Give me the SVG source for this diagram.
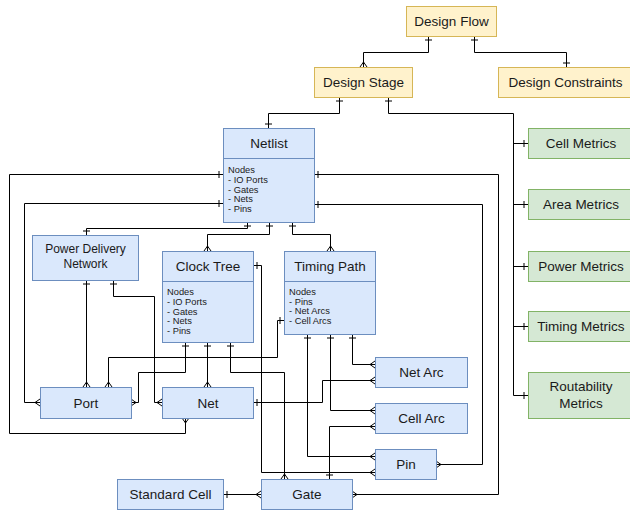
<svg xmlns="http://www.w3.org/2000/svg" width="630" height="512" viewBox="0 0 630 512">
<style>
.b{fill:#dae8fc;stroke:#6c8ebf;stroke-width:1}
.y{fill:#fff2cc;stroke:#d6b656;stroke-width:1}
.g{fill:#d5e8d4;stroke:#82b366;stroke-width:1}
.dv{stroke:#6c8ebf;stroke-width:1}
text{font-family:"Liberation Sans",Arial,sans-serif;fill:#1a1a1a;dominant-baseline:central}
.t{font-size:13.5px;text-anchor:middle}
.m{font-size:12px;text-anchor:middle}
.s{font-size:9.3px}
#connectors path{fill:none;stroke:#000;stroke-width:1}
.e{marker-start:url(#one);marker-end:url(#many)}
.o{marker-start:url(#one);marker-end:url(#one)}
</style>
<defs>
<marker id="one" viewBox="-10 -5 10 10" refX="0" refY="0" markerWidth="10" markerHeight="10" markerUnits="userSpaceOnUse" orient="auto-start-reverse"><path d="M-4,-3.5V3.5" stroke="#000" fill="none"/></marker>
<marker id="many" viewBox="-10 -5 10 10" refX="0" refY="0" markerWidth="10" markerHeight="10" markerUnits="userSpaceOnUse" orient="auto-start-reverse"><path d="M0,-3.5L-5,0L0,3.5" stroke="#000" fill="none"/></marker>
</defs>
<g id="connectors">
<path class="e" d="M428.5,36 V52.5 H363.5 V67"/>
<path class="o" d="M474.5,36 V52.5 H566.5 V67"/>
<path class="o" d="M339.5,97 V113.5 H268.5 V128"/>
<path class="o" d="M388.5,97 V113.5 H513.5 V395.5 H528"/>
<path marker-end="url(#one)" d="M513.5,143.5 H528"/>
<path marker-end="url(#one)" d="M513.5,204.5 H528"/>
<path marker-end="url(#one)" d="M513.5,266.5 H528"/>
<path marker-end="url(#one)" d="M513.5,326.5 H528"/>
<path class="e" d="M223,174.5 H9.5 V433.5 H185.5 V418"/>
<path class="e" d="M223,203.5 H24.5 V402.5 H40"/>
<path class="e" d="M314,174.5 H498.5 V494.5 H352"/>
<path class="e" d="M314,204.5 H482.5 V464.5 H436"/>
<path class="o" d="M247.5,222 V228.5 H86.5 V235"/>
<path class="e" d="M269.5,222 V234.5 H207.5 V251"/>
<path class="e" d="M292.5,222 V234.5 H330.5 V251"/>
<path class="e" d="M86.5,280 V387"/>
<path class="e" d="M113.5,280 V296.5 H154.5 V402.5 H162"/>
<path class="e" d="M253,265.5 H261.5 V472.5 H375"/>
<path class="e" d="M185.5,342 V372.5 H138.5 V402.5 H131"/>
<path class="e" d="M207.5,342 V387"/>
<path class="e" d="M230.5,342 V372.5 H284.5 V479"/>
<path class="e" d="M284,320.5 H277.5 V357.5 H108.5 V387"/>
<path class="e" d="M352.5,334 V364.5 H375"/>
<path class="e" d="M330.5,334 V410.5 H375"/>
<path class="e" d="M307.5,334 V456.5 H375"/>
<path class="e" d="M253,402.5 H322.5 V380.5 H375"/>
<path class="e" d="M329.5,479 V426.5 H375"/>
<path class="e" d="M223,494.5 H261"/>
</g>
<g id="design-flow"><rect class="y" x="406.5" y="6.5" width="90" height="30"/><text class="t" x="451.5" y="21.5">Design Flow</text></g>
<g id="design-stage"><rect class="y" x="314.5" y="67.5" width="98" height="30"/><text class="t" x="363.5" y="82.5">Design Stage</text></g>
<g id="design-constraints"><rect class="y" x="498.5" y="67.5" width="134" height="30"/><text class="t" x="565.5" y="82.5">Design Constraints</text></g>
<g id="netlist"><rect class="b" x="223.5" y="128.5" width="91" height="94"/><line class="dv" x1="223.5" y1="158.5" x2="314.5" y2="158.5"/><text class="t" x="269" y="143">Netlist</text>
<text class="s" x="228" y="170">Nodes</text><text class="s" x="228" y="180">- IO Ports</text><text class="s" x="228" y="189.5">- Gates</text><text class="s" x="228" y="199">- Nets</text><text class="s" x="228" y="209">- Pins</text></g>
<g id="power-delivery-network"><rect class="b" x="32.5" y="235.5" width="106" height="45"/><text class="m" x="85.5" y="249">Power Delivery</text><text class="m" x="85.5" y="264">Network</text></g>
<g id="clock-tree"><rect class="b" x="162.5" y="251.5" width="91" height="91"/><line class="dv" x1="162.5" y1="281.5" x2="253.5" y2="281.5"/><text class="t" x="208" y="266">Clock Tree</text>
<text class="s" x="167" y="292">Nodes</text><text class="s" x="167" y="302">- IO Ports</text><text class="s" x="167" y="311.5">- Gates</text><text class="s" x="167" y="321">- Nets</text><text class="s" x="167" y="331">- Pins</text></g>
<g id="timing-path"><rect class="b" x="284.5" y="251.5" width="91" height="83"/><line class="dv" x1="284.5" y1="281.5" x2="375.5" y2="281.5"/><text class="t" x="330" y="266">Timing Path</text>
<text class="s" x="289" y="292">Nodes</text><text class="s" x="289" y="301.5">- Pins</text><text class="s" x="289" y="311">- Net Arcs</text><text class="s" x="289" y="320.5">- Cell Arcs</text></g>
<g id="port"><rect class="b" x="40.5" y="387.5" width="91" height="31"/><text class="t" x="86" y="403">Port</text></g>
<g id="net"><rect class="b" x="162.5" y="387.5" width="91" height="31"/><text class="t" x="208" y="403">Net</text></g>
<g id="net-arc"><rect class="b" x="375.5" y="357.5" width="92" height="30"/><text class="t" x="421.5" y="372.5">Net Arc</text></g>
<g id="cell-arc"><rect class="b" x="375.5" y="403.5" width="92" height="30"/><text class="t" x="421.5" y="418.5">Cell Arc</text></g>
<g id="pin"><rect class="b" x="375.5" y="449.5" width="61" height="30"/><text class="t" x="406" y="464.5">Pin</text></g>
<g id="standard-cell"><rect class="b" x="117.5" y="479.5" width="106" height="30"/><text class="t" x="170.5" y="494.5">Standard Cell</text></g>
<g id="gate"><rect class="b" x="261.5" y="479.5" width="91" height="30"/><text class="t" x="307" y="494.5">Gate</text></g>
<g id="cell-metrics"><rect class="g" x="528.5" y="128.5" width="106" height="30"/><text class="t" x="581" y="143.5">Cell Metrics</text></g>
<g id="area-metrics"><rect class="g" x="528.5" y="189.5" width="106" height="30"/><text class="t" x="581" y="204.5">Area Metrics</text></g>
<g id="power-metrics"><rect class="g" x="528.5" y="251.5" width="106" height="30"/><text class="t" x="581" y="266.5">Power Metrics</text></g>
<g id="timing-metrics"><rect class="g" x="528.5" y="311.5" width="106" height="30"/><text class="t" x="581" y="326.5">Timing Metrics</text></g>
<g id="routability-metrics"><rect class="g" x="528.5" y="372.5" width="106" height="46"/><text class="t" x="581" y="386.5">Routability</text><text class="t" x="581" y="403">Metrics</text></g>
</svg>
